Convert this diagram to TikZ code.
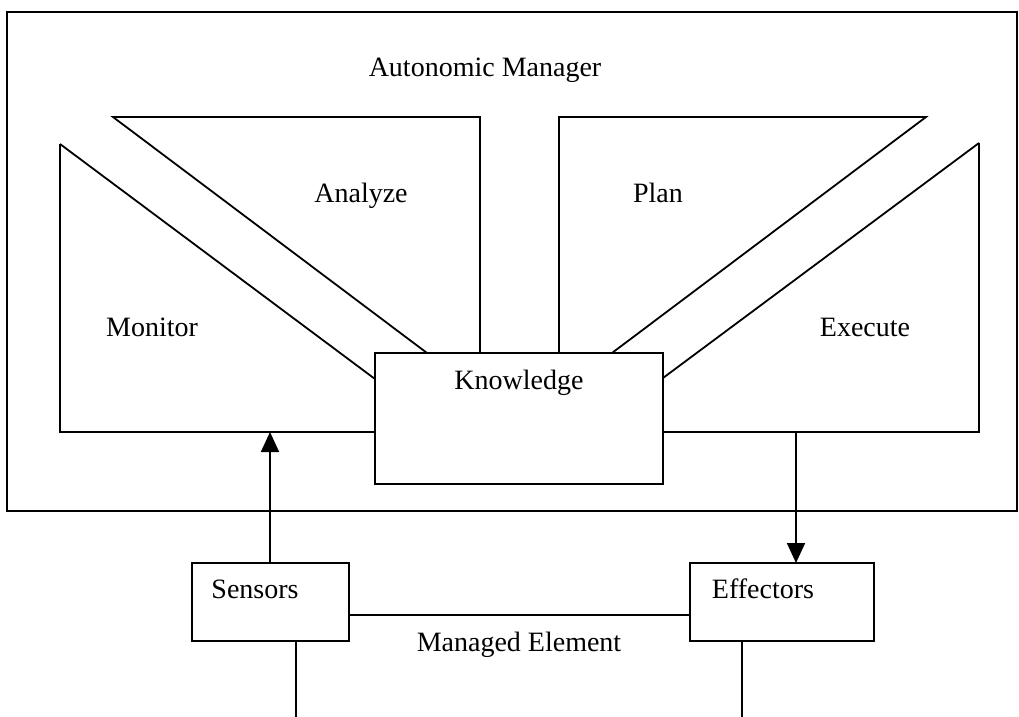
\documentclass[tikz,border=0pt]{standalone}
\usepackage{fontspec}
\setmainfont{Liberation Serif}
\usetikzlibrary{arrows.meta}
\newcommand{\drawline}{\draw[line width=0.9pt]}
\newcommand{\stagetext}[3]{\node[lbl] (#1) at (#2) {#3};}
\tikzset{
  lbl/.style={anchor=base, inner sep=0pt, font=\fontsize{14}{17}\selectfont},
  boxnode/.style={draw, line width=0.9pt, inner sep=0pt, outer sep=0pt},
  arr/.style={-{Triangle[length=10pt,width=9pt]}, line width=0.9pt}
}

\begin{document}
\begin{tikzpicture}[x=0.5pt,y=-0.5pt]
\useasboundingbox (0,0) rectangle (1019,717);
\drawline (7,12) rectangle (1017,511);
% monitor, analyze, plan, execute
\drawline (60,144)--(60,432)--(375,432);
\drawline (60,144)--(375,379);
\drawline (427,353)--(113,117)--(480,117)--(480,353);
\drawline (612,353)--(926,117)--(559,117)--(559,353);
\drawline (979,143)--(979,432)--(663,432);
\drawline (979,143)--(663,378);
\node[boxnode, minimum width=144pt, minimum height=65.5pt] (knowledge) at (519,418.5) {};
\node[boxnode, minimum width=78.5pt, minimum height=39pt] (sensors) at (270.5,602) {};
\node[boxnode, minimum width=92pt, minimum height=39pt] (effectors) at (782,602) {};
\coordinate (monitorin) at (270,432);
\coordinate (executeout) at (796,432);
\draw[arr] (monitorin |- sensors.north) -- (monitorin);
\draw[arr] (executeout) -- (executeout |- effectors.north);
\drawline ([yshift=-6.5pt]sensors.east) -- ([yshift=-6.5pt]effectors.west);
\drawline ([xshift=12.75pt]sensors.south) -- ++(0,80);
\drawline ([xshift=-20pt]effectors.south) -- ++(0,80);
\stagetext{managertext}{485,77}{Autonomic Manager}
\stagetext{analyzetext}{361,203}{Analyze}
\stagetext{plantext}{658,203}{Plan}
\stagetext{monitortext}{152,336}{Monitor}
\stagetext{executetext}{865,336}{Execute}
\stagetext{knowledgetext}{519,389}{Knowledge}
\stagetext{sensorstext}{255,598}{Sensors}
\stagetext{effectorstext}{763,598}{Effectors}
\stagetext{elementtext}{519,651}{Managed Element}
\end{tikzpicture}
\end{document}
